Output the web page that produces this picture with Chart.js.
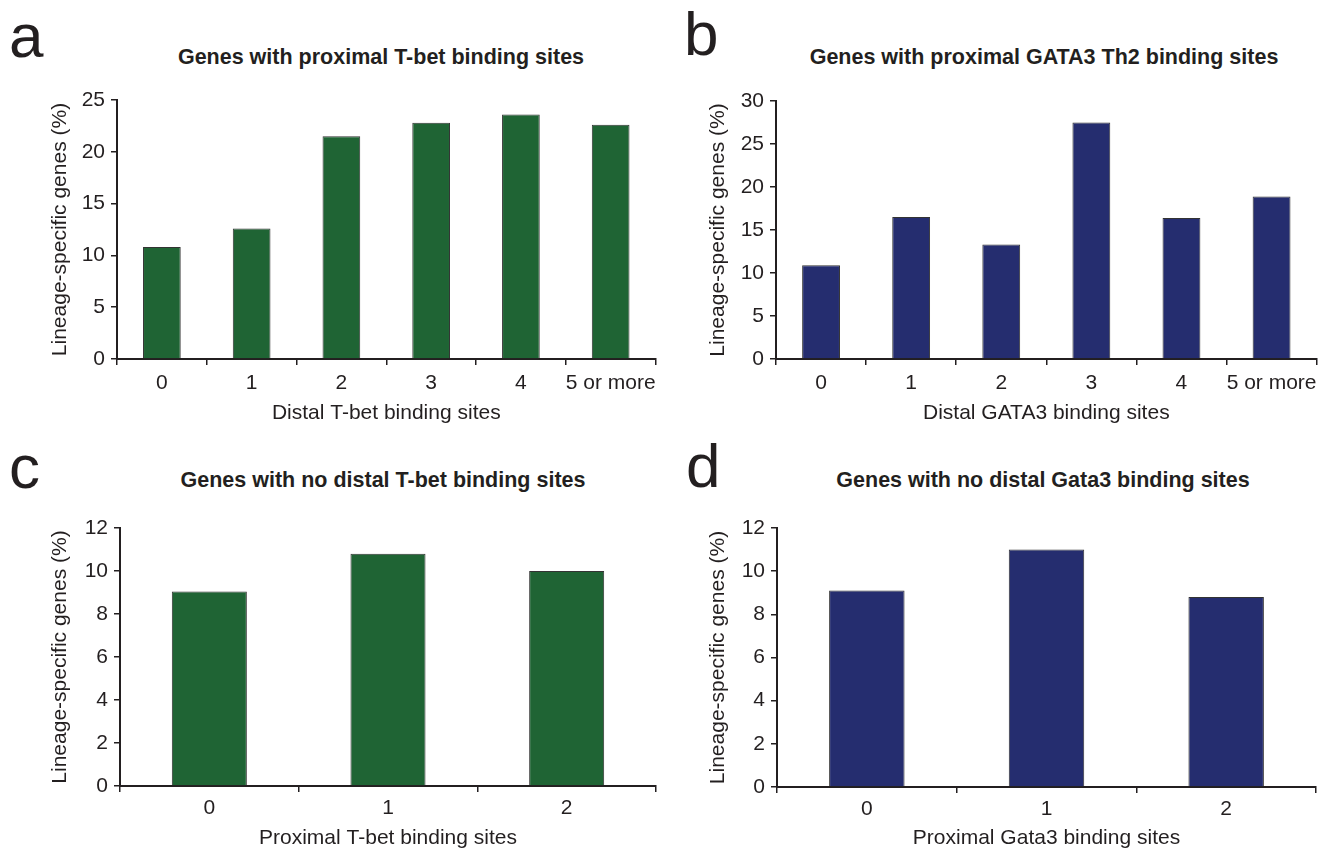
<!DOCTYPE html>
<html>
<head>
<meta charset="utf-8">
<title>Lineage-specific genes vs binding sites</title>
<script src="https://cdn.jsdelivr.net/npm/chart.js@4.4.1/dist/chart.umd.min.js"></script>
<style>
  body   { margin: 0; background: #fff; width: 1323px; height: 851px; position: relative; overflow: hidden;
           font-family: 'Liberation Sans', Arial, sans-serif; color: #231f20; }
  .panel { position: absolute; }
  .letter {
    position: absolute;
    font-size: 62px;
    line-height: 1;
  }
  .title {
    position: absolute;
    width: 600px;
    margin-left: -300px;
    text-align: center;
    font-size: 21.5px;
    font-weight: bold;
    line-height: 26px;
    white-space: nowrap;
  }
</style>
</head>
<body>
  <div class="letter" style="left:9px;top:5px">a</div>
  <div class="letter" style="left:684px;top:3px">b</div>
  <div class="letter" style="left:9px;top:436px">c</div>
  <div class="letter" style="left:686px;top:435px">d</div>

  <div class="title" style="left:381px;top:44px">Genes with proximal T-bet binding sites</div>
  <div class="title" style="left:1044px;top:44px">Genes with proximal GATA3 Th2 binding sites</div>
  <div class="title" style="left:383px;top:467px">Genes with no distal T-bet binding sites</div>
  <div class="title" style="left:1043px;top:467px">Genes with no distal Gata3 binding sites</div>

  <div class="panel" style="left:0;top:0;width:662px;height:430px"><canvas id="chartA"></canvas></div>
  <div class="panel" style="left:660px;top:0;width:663px;height:430px"><canvas id="chartB"></canvas></div>
  <div class="panel" style="left:0;top:430px;width:662px;height:421px"><canvas id="chartC"></canvas></div>
  <div class="panel" style="left:660px;top:430px;width:663px;height:421px"><canvas id="chartD"></canvas></div>

<script>
// ── Data ────────────────────────────────────────────
const distalLabels   = ['0', '1', '2', '3', '4', '5 or more']
const proximalLabels = ['0', '1', '2']

const tbetDistalValues   = [10.8, 12.6, 21.5, 22.8, 23.6, 22.6]
const gataDistalValues   = [10.9, 16.5, 13.3, 27.5, 16.4, 18.9]
const tbetProximalValues = [9.05, 10.8, 10.0]
const gataProximalValues = [9.1, 11.0, 8.8]

const yTicksDistalTbet = { max: 25, step: 5 }
const yTicksDistalGata = { max: 30, step: 5 }
const yTicksProximal   = { max: 12, step: 2 }

// ── Style ───────────────────────────────────────────
const FONT  = "'Liberation Sans', Arial, sans-serif"
const INK   = '#231f20'
const GREEN = '#1f6434'
const NAVY  = '#252d6f'

/**
 * One bar panel. The layout numbers pin the plot area so the four
 * panels line up like the printed figure.
 */
function buildPanel(id, cfg) {
  return new Chart(document.getElementById(id), {
    type: 'bar',
    data: {
      labels: cfg.labels,
      datasets: [{
        data:               cfg.values,
        backgroundColor:    cfg.color,
        borderColor:        '#333333',
        borderWidth:        1,
        borderSkipped:      'bottom',
        barPercentage:      0.42,
        categoryPercentage: 1,
      }],
    },
    options: {
      responsive:          true,
      maintainAspectRatio: false,
      animation:           false,
      events:              [],
      layout: { padding: { left: cfg.padLeft, right: cfg.padRight, top: cfg.padTop, bottom: 0 } },
      plugins: {
        legend:  { display: false },
        tooltip: { enabled: false },
      },
      scales: {
        x: {
          grid:   { drawOnChartArea: false, color: INK, tickLength: 6, lineWidth: 1.5 },
          border: { color: INK, width: 2 },
          ticks:  { color: INK, font: { family: FONT, size: 21 }, padding: cfg.xTickPad, maxRotation: 0, autoSkip: false },
          title: {
            display: true,
            text:    cfg.xTitle,
            color:   INK,
            font:    { family: FONT, size: 21 },
            padding: { top: 0, bottom: cfg.xTitlePad },
          },
          afterFit: (scale) => { scale.height = cfg.xHeight },
        },
        y: {
          min: 0,
          max: cfg.yTicks.max,
          grid:   { drawOnChartArea: false, color: INK, tickLength: 6, lineWidth: 1.5 },
          border: { color: INK, width: 2 },
          ticks:  { stepSize: cfg.yTicks.step, color: INK, font: { family: FONT, size: 21 }, padding: 6 },
          title: {
            display: true,
            text:    'Lineage-specific genes (%)',
            color:   INK,
            font:    { family: FONT, size: 21 },
            padding: 0,
          },
          afterFit: (scale) => { scale.width = cfg.yWidth },
        },
      },
    },
  })
}

// ── Panels ──────────────────────────────────────────
buildPanel('chartA', {
  labels: distalLabels, values: tbetDistalValues, color: GREEN, yTicks: yTicksDistalTbet,
  xTitle: 'Distal T-bet binding sites',
  padLeft: 48, yWidth: 69, padRight: 5, padTop: 100,
  xHeight: 71, xTickPad: 6, xTitlePad: 4,
})

buildPanel('chartB', {
  labels: distalLabels, values: gataDistalValues, color: NAVY, yTicks: yTicksDistalGata,
  xTitle: 'Distal GATA3 binding sites',
  padLeft: 46, yWidth: 70, padRight: 6, padTop: 101,
  xHeight: 71, xTickPad: 6, xTitlePad: 4,
})

buildPanel('chartC', {
  labels: proximalLabels, values: tbetProximalValues, color: GREEN, yTicks: yTicksProximal,
  xTitle: 'Proximal T-bet binding sites',
  padLeft: 48, yWidth: 72, padRight: 6, padTop: 98,
  xHeight: 65, xTickPad: 4, xTitlePad: 0,
})

buildPanel('chartD', {
  labels: proximalLabels, values: gataProximalValues, color: NAVY, yTicks: yTicksProximal,
  xTitle: 'Proximal Gata3 binding sites',
  padLeft: 46, yWidth: 71, padRight: 7, padTop: 98,
  xHeight: 64, xTickPad: 4, xTitlePad: 0,
})
</script>
</body>
</html>
